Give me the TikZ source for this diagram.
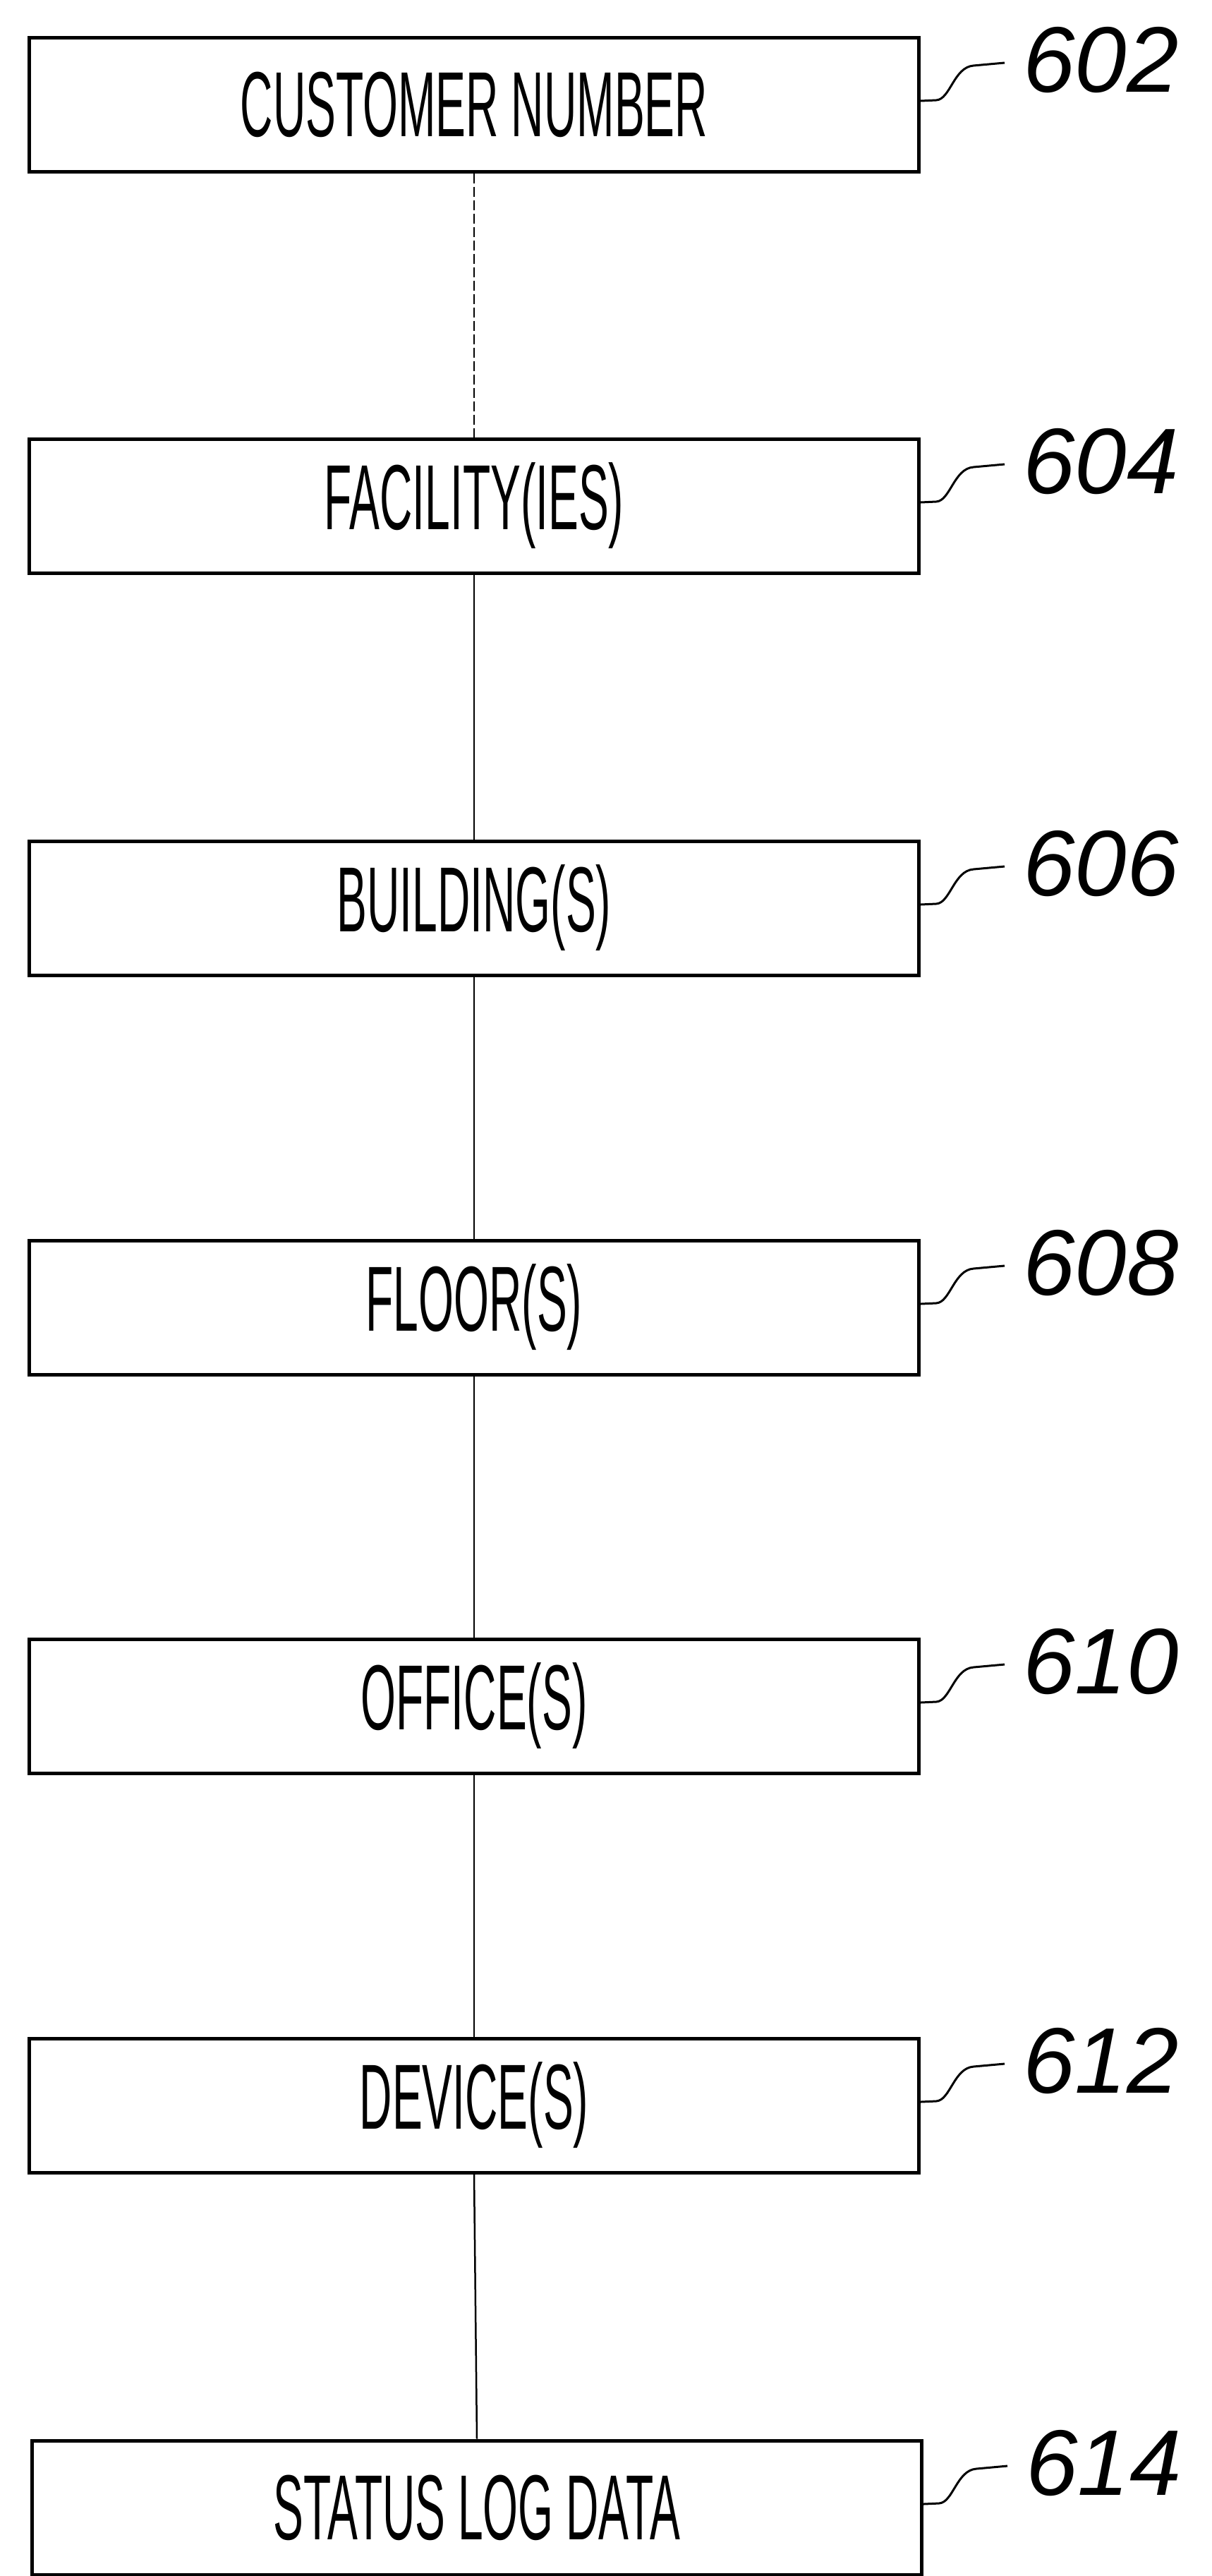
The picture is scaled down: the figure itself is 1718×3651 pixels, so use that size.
\documentclass[tikz,border=0pt]{standalone}
\usepackage{fontspec}
\setmainfont{Liberation Sans}
\usetikzlibrary{calc}
\newcommand\leaderline[1]{%
  \draw[leader] ($(#1.east)+(0,5)$) -- ($(#1.east)+(22,6)$)
    .. controls ($(#1.east)+(42,7)$) and ($(#1.east)+(47,53)$) .. ($(#1.east)+(75,55)$)
    -- ($(#1.east)+(119,59)$);}
\begin{document}
\begin{tikzpicture}[x=1pt,y=1pt,
  box/.style={draw, line width=5pt, minimum width=1261pt, minimum height=190pt,
    inner sep=0pt, font=\fontsize{131}{140}\selectfont},
  conn/.style={line width=2.5pt},
  leader/.style={line width=3pt},
  reflabel/.style={anchor=west, inner sep=0pt, font=\fontsize{132}{140}\selectfont\itshape}]
\useasboundingbox (0,0) rectangle (1718,-3651);
\newcommand\cond[1]{\scalebox{0.49}[1]{#1}}
\node[box] (b602) at (672,-148) {\cond{CUSTOMER NUMBER}};
\node[box] (b604) at (672,-717) {\cond{FACILITY(IES)}};
\node[box] (b606) at (672,-1287) {\cond{BUILDING(S)}};
\node[box] (b608) at (672,-1853) {\cond{FLOOR(S)}};
\node[box] (b610) at (672,-2418) {\cond{OFFICE(S)}};
\node[box] (b612) at (672,-2984) {\cond{DEVICE(S)}};
\node[box] (b614) at (676,-3554) {\cond{STATUS LOG DATA}};
\draw[conn, dashed, dash pattern=on 14pt off 5pt] (b602.south) -- (b604.north);
\draw[conn] (b604.south) -- (b606.north);
\draw[conn] (b606.south) -- (b608.north);
\draw[conn] (b608.south) -- (b610.north);
\draw[conn] (b610.south) -- (b612.north);
\draw[conn] (b612.south) -- (b614.north);
\foreach \n in {602,604,606,608,610,612,614}{
  \leaderline{b\n}
  \node[reflabel] (l\n) at ($(b\n.east)+(145,63)$) {\n};
}
\end{tikzpicture}
\end{document}
